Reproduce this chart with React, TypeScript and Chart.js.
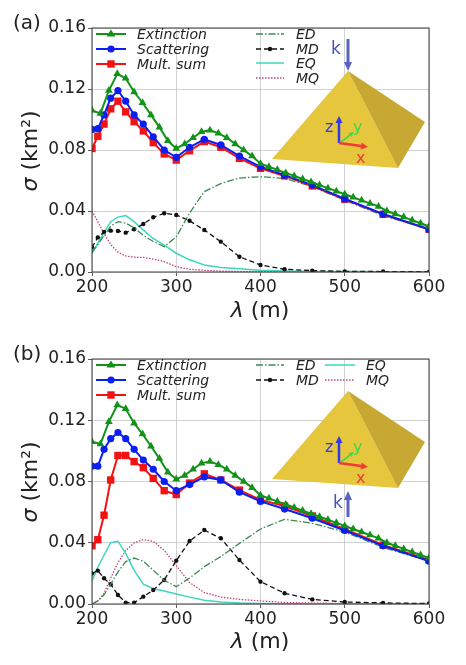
import { useEffect, useRef } from 'react';
import Chart from 'chart.js/auto';

// wavelength grid of the multipole / scattering curves (uniform in 1/λ)
const LAMBDA = [200, 206.9, 214.3, 222.2, 230.8, 240, 250, 260.9, 272.7, 285.7, 300, 315.8, 333.3, 352.9, 375, 400, 428.6, 461.5, 500, 545.5, 600];
// extinction is sampled more densely
const LAMBDA_EXT = [200, 210, 220, 230, 240, 250, 260, 270, 280, 290, 300, 310, 320, 330, 340, 350, 360, 370, 380, 390, 400, 410, 420, 430, 440, 450, 460, 470, 480, 490, 500, 510, 520, 530, 540, 550, 560, 570, 580, 590, 600];
const X_TICKS = [200, 300, 400, 500, 600];
const Y_TICKS = [0, 0.04, 0.08, 0.12, 0.16];

// panel (a)
const EXT_A = [0.106, 0.104, 0.119, 0.130, 0.127, 0.118, 0.111, 0.103, 0.095, 0.086, 0.081, 0.084, 0.088, 0.092, 0.093, 0.091, 0.088, 0.084, 0.080, 0.076, 0.071, 0.069, 0.067, 0.065, 0.063, 0.061, 0.059, 0.057, 0.055, 0.053, 0.051, 0.049, 0.047, 0.045, 0.043, 0.040, 0.038, 0.036, 0.034, 0.032, 0.030];
const SCA_A = [0.0935, 0.094, 0.103, 0.114, 0.119, 0.112, 0.103, 0.097, 0.0887, 0.080, 0.0752, 0.0818, 0.087, 0.0833, 0.076, 0.069, 0.0635, 0.057, 0.048, 0.038, 0.028];
const SUM_A = [0.081, 0.089, 0.097, 0.107, 0.112, 0.105, 0.0986, 0.0925, 0.0848, 0.0774, 0.0734, 0.0795, 0.0855, 0.0818, 0.0745, 0.068, 0.063, 0.0564, 0.0477, 0.0378, 0.028];
const ED_A = [0.013, 0.018, 0.024, 0.030, 0.033, 0.032, 0.029, 0.024, 0.020, 0.0166, 0.023, 0.0387, 0.0527, 0.058, 0.0616, 0.0625, 0.0614, 0.056, 0.047, 0.037, 0.028];
const MD_A = [0.0162, 0.0227, 0.0262, 0.0271, 0.0269, 0.0258, 0.028, 0.0315, 0.0359, 0.0385, 0.0374, 0.0336, 0.0275, 0.0199, 0.010, 0.0046, 0.0018, 0.0009, 0.0004, 0.0003, 0.0001];
const EQ_A = [0.012, 0.019, 0.026, 0.033, 0.036, 0.037, 0.033, 0.0275, 0.022, 0.0177, 0.0123, 0.008, 0.0046, 0.003, 0.0022, 0.0012, 0.0007, 0.0004, 0.0003, 0.0002, 0.0001];
const MQ_A = [0.040, 0.033, 0.025, 0.018, 0.013, 0.0105, 0.0097, 0.0096, 0.0085, 0.0068, 0.0035, 0.0018, 0.0011, 0.0006, 0.0003, 0.0002, 0.0001, 0.0001, 0.0001, 0.0001, 0.0001];

// panel (b)
const EXT_B = [0.106, 0.1045, 0.119, 0.130, 0.1275, 0.118, 0.111, 0.103, 0.095, 0.086, 0.0815, 0.084, 0.088, 0.092, 0.093, 0.091, 0.088, 0.084, 0.080, 0.076, 0.071, 0.069, 0.067, 0.065, 0.063, 0.061, 0.059, 0.057, 0.055, 0.053, 0.051, 0.049, 0.047, 0.045, 0.043, 0.040, 0.038, 0.036, 0.034, 0.032, 0.030];
const SCA_B = [0.090, 0.090, 0.101, 0.108, 0.112, 0.108, 0.101, 0.094, 0.088, 0.080, 0.074, 0.078, 0.083, 0.081, 0.073, 0.067, 0.062, 0.056, 0.048, 0.038, 0.028];
const SUM_B = [0.038, 0.042, 0.058, 0.081, 0.097, 0.097, 0.093, 0.089, 0.082, 0.074, 0.0715, 0.079, 0.085, 0.081, 0.0744, 0.068, 0.064, 0.0575, 0.0488, 0.0385, 0.0287];
const ED_B = [0.000, 0.002, 0.006, 0.013, 0.021, 0.0277, 0.030, 0.028, 0.022, 0.0155, 0.0113, 0.017, 0.0244, 0.031, 0.0396, 0.049, 0.0553, 0.0527, 0.047, 0.037, 0.028];
const MD_B = [0.020, 0.0218, 0.0168, 0.0129, 0.0059, 0.0009, 0.0009, 0.0048, 0.0091, 0.0157, 0.0283, 0.0411, 0.0483, 0.0429, 0.0287, 0.0146, 0.007, 0.003, 0.0013, 0.0007, 0.0003];
const EQ_B = [0.015, 0.024, 0.032, 0.040, 0.041, 0.033, 0.022, 0.013, 0.010, 0.0085, 0.0065, 0.0045, 0.0025, 0.0013, 0.0006, 0.0003, 0.0002, 0.0001, 0.0001, 0.0001, 0.0001];
const MQ_B = [0.000, 0.002, 0.007, 0.017, 0.027, 0.035, 0.040, 0.042, 0.041, 0.035, 0.025, 0.014, 0.0075, 0.0045, 0.003, 0.002, 0.001, 0.0006, 0.0003, 0.0002, 0.0001];

const FONT = "'DejaVu Sans', sans-serif";
const C_EXT = '#13921a';
const C_SCA = '#0a1ef2';
const C_SUM = '#f21212';
const C_ED = '#3d8a55';
const C_MD = '#111111';
const C_EQ = '#3fd6bd';
const C_MQ = '#c2407f';

const xy = (xs: number[], ys: number[]) => xs.map((x, i) => ({ x, y: ys[i] }));

const framePlugin = {
  id: 'frame',
  afterDraw(chart: any) {
    const { ctx, chartArea: a } = chart;
    ctx.save();
    ctx.strokeStyle = '#3a3a3a';
    ctx.lineWidth = 1;
    ctx.strokeRect(a.left, a.top, a.right - a.left, a.bottom - a.top);
    ctx.restore();
  },
};

type PanelProps = {
  ext: number[]; sca: number[]; sum: number[];
  ed: number[]; md: number[]; eq: number[]; mq: number[];
  height: number; axisHeight: number;
};

const Panel = ({ ext, sca, sum, ed, md, eq, mq, height, axisHeight }: PanelProps) => {
  const chartRef = useRef<HTMLCanvasElement>(null);

  useEffect(() => {
    const ctx = chartRef.current?.getContext('2d');
    if (!ctx) return;

    const thin = { pointRadius: 0, tension: 0, borderWidth: 1.3, fill: false };
    const chart = new Chart(ctx, {
      type: 'line',
      data: {
        datasets: [
          { label: 'Extinction', data: xy(LAMBDA_EXT, ext), borderColor: C_EXT, backgroundColor: C_EXT, borderWidth: 2, pointStyle: 'triangle', pointRadius: 4.5, pointBorderWidth: 0, tension: 0 },
          { label: 'Scattering', data: xy(LAMBDA, sca), borderColor: C_SCA, backgroundColor: C_SCA, borderWidth: 2, pointStyle: 'circle', pointRadius: 3.6, pointBorderWidth: 0, tension: 0 },
          { label: 'Mult. sum', data: xy(LAMBDA, sum), borderColor: C_SUM, backgroundColor: C_SUM, borderWidth: 2, pointStyle: 'rect', pointRadius: 5.2, pointBorderWidth: 0, tension: 0 },
          { label: 'ED', data: xy(LAMBDA, ed), borderColor: C_ED, borderDash: [7, 2, 1.5, 2], ...thin },
          { label: 'MD', data: xy(LAMBDA, md), borderColor: C_MD, backgroundColor: C_MD, borderDash: [5, 3], ...thin, pointRadius: 2.2, pointBorderWidth: 0 },
          { label: 'EQ', data: xy(LAMBDA, eq), borderColor: C_EQ, ...thin, borderWidth: 1.5 },
          { label: 'MQ', data: xy(LAMBDA, mq), borderColor: C_MQ, borderDash: [1.5, 1.5], ...thin },
        ],
      },
      options: {
        responsive: false,
        animation: false,
        layout: { padding: { top: 28, right: 37, left: 0, bottom: 0 } },
        plugins: { legend: { display: false }, tooltip: { enabled: false } },
        scales: {
          x: {
            type: 'linear',
            min: 200,
            max: 600,
            afterBuildTicks: (s: any) => { s.ticks = X_TICKS.map((value) => ({ value })); },
            afterFit: (s: any) => { s.height = axisHeight; },
            grid: { color: '#c6c6c6', lineWidth: 0.8, tickLength: 4, tickColor: '#333' },
            border: { display: false },
            ticks: { color: '#222', font: { family: FONT, size: 17 }, padding: 1, maxRotation: 0 },
          },
          y: {
            min: 0,
            max: 0.16,
            afterBuildTicks: (s: any) => { s.ticks = Y_TICKS.map((value) => ({ value })); },
            afterFit: (s: any) => { s.width = 92; },
            grid: { color: '#c6c6c6', lineWidth: 0.8, tickLength: 4, tickColor: '#333' },
            border: { display: false },
            ticks: { color: '#222', font: { family: FONT, size: 17 }, padding: 2, callback: (v: any) => Number(v).toFixed(2) },
          },
        },
      },
      plugins: [framePlugin],
    });

    return () => chart.destroy();
  }, []);

  return <canvas ref={chartRef} width={466} height={height} style={{ display: 'block' }} />;
};

type KeyProps = { x: number; y: number; tx: number; len: number; label: string; color: string; dash?: string; marker?: string; w?: number };

const Key = ({ x, y, tx, len, label, color, dash, marker, w = 2 }: KeyProps) => {
  const c = len / 2;
  return (
    <>
      <svg style={{ position: 'absolute', left: x, top: y - 7 }} width={len} height={14}>
        <line x1={0} y1={7} x2={len} y2={7} stroke={color} strokeWidth={w} strokeDasharray={dash} />
        {marker === 'triangle' && <polygon points={`${c},2.5 ${c + 4.5},9.5 ${c - 4.5},9.5`} fill={color} />}
        {marker === 'circle' && <circle cx={c} cy={7} r={3.6} fill={color} />}
        {marker === 'rect' && <rect x={c - 3.7} y={3.3} width={7.4} height={7.4} fill={color} />}
        {marker === 'dot' && <circle cx={c} cy={7} r={2.2} fill={color} />}
      </svg>
      <div style={{ position: 'absolute', left: tx, top: y - 9, fontSize: 14, lineHeight: '18px', fontStyle: 'italic', color: '#222', whiteSpace: 'nowrap' }}>{label}</div>
    </>
  );
};

const Arrow = ({ x1, y1, x2, y2, color, w = 2.5, head = 7, hw = 3.5 }: { x1: number; y1: number; x2: number; y2: number; color: string; w?: number; head?: number; hw?: number }) => {
  const dx = x2 - x1;
  const dy = y2 - y1;
  const l = Math.hypot(dx, dy);
  const ux = dx / l;
  const uy = dy / l;
  const bx = x2 - ux * head;
  const by = y2 - uy * head;
  return (
    <g>
      <line x1={x1} y1={y1} x2={bx} y2={by} stroke={color} strokeWidth={w} />
      <polygon points={`${x2},${y2} ${bx - uy * hw},${by + ux * hw} ${bx + uy * hw},${by - ux * hw}`} fill={color} />
    </g>
  );
};

const Pyramid = ({ dy }: { dy: number }) => (
  <g transform={`translate(0, ${dy})`}>
    <polygon points="348,71 272,159 398,168" fill="#e6c63c" />
    <polygon points="348,71 398,168 425,122" fill="#c7a833" />
    <Arrow x1={339} y1={143} x2={339} y2={116} color="#2f3ae8" w={2.5} head={7} hw={3.5} />
    <Arrow x1={339} y1={143} x2={368} y2={147} color="#f03a3a" w={2.5} head={7} hw={3.5} />
    <Arrow x1={341} y1={142} x2={354} y2={132} color="#3fd84a" w={1.6} head={5} hw={2.5} />
    <text x={325} y={132} fontSize={16} fill="#2f3ae8">z</text>
    <text x={353} y={132} fontSize={16} fill="#3fd84a">y</text>
    <text x={356} y={163} fontSize={16} fill="#f03a3a">x</text>
  </g>
);

const LeftKeys = ({ oy }: { oy: number }) => (
  <>
    <Key x={96} y={34 + oy} tx={137} len={30} label="Extinction" color={C_EXT} marker="triangle" />
    <Key x={96} y={49 + oy} tx={137} len={30} label="Scattering" color={C_SCA} marker="circle" />
    <Key x={96} y={64 + oy} tx={137} len={30} label="Mult. sum" color={C_SUM} marker="rect" />
  </>
);

const App = () => {
  return (
    <div style={{ position: 'absolute', left: 0, top: 0, width: 466, height: 665, background: '#fff', overflow: 'hidden', fontFamily: FONT }}>
      <div style={{ position: 'absolute', left: 0, top: 0 }}>
        <Panel ext={EXT_A} sca={SCA_A} sum={SUM_A} ed={ED_A} md={MD_A} eq={EQ_A} mq={MQ_A} height={332} axisHeight={60} />
      </div>
      <div style={{ position: 'absolute', left: 0, top: 331 }}>
        <Panel ext={EXT_B} sca={SCA_B} sum={SUM_B} ed={ED_B} md={MD_B} eq={EQ_B} mq={MQ_B} height={334} axisHeight={61} />
      </div>

      <svg style={{ position: 'absolute', left: 0, top: 0 }} width={466} height={665} fontFamily={FONT}>
        <Pyramid dy={0} />
        <Pyramid dy={320} />
        {/* incident wave vectors */}
        <Arrow x1={348} y1={39} x2={348} y2={71} color="#5a62c4" w={3} head={9} hw={4} />
        <text x={331} y={54} fontSize={17} fill="#4a52b8">k</text>
        <Arrow x1={348} y1={517} x2={348} y2={491} color="#5a62c4" w={3} head={9} hw={4} />
        <text x={333} y={508} fontSize={17} fill="#4a52b8">k</text>
      </svg>

      <LeftKeys oy={0} />
      <Key x={256} y={34} tx={296} len={28} label="ED" color={C_ED} dash="7 2 1.5 2" w={1.3} />
      <Key x={256} y={49} tx={296} len={28} label="MD" color={C_MD} dash="5 3" marker="dot" w={1.3} />
      <Key x={256} y={63} tx={296} len={28} label="EQ" color={C_EQ} w={1.5} />
      <Key x={256} y={78} tx={296} len={28} label="MQ" color={C_MQ} dash="1.5 1.5" w={1.3} />

      <LeftKeys oy={331} />
      <Key x={256} y={365} tx={296} len={28} label="ED" color={C_ED} dash="7 2 1.5 2" w={1.3} />
      <Key x={256} y={380} tx={296} len={28} label="MD" color={C_MD} dash="5 3" marker="dot" w={1.3} />
      <Key x={325} y={365} tx={366} len={30} label="EQ" color={C_EQ} w={1.5} />
      <Key x={325} y={380} tx={366} len={30} label="MQ" color={C_MQ} dash="1.5 1.5" w={1.3} />

      {/* panel labels and axis titles */}
      {[0, 331].map((oy, i) => (
        <div key={oy}>
          <div style={{ position: 'absolute', left: 13, top: oy + 10, fontSize: 20, color: '#222' }}>{i === 0 ? '(a)' : '(b)'}</div>
          <div style={{ position: 'absolute', left: 29, top: oy + 151, transform: 'translate(-50%, -50%) rotate(-90deg)', fontSize: 22, color: '#222', whiteSpace: 'nowrap' }}>
            <i>σ</i> (km²)
          </div>
          <div style={{ position: 'absolute', left: 260, top: oy + 309, transform: 'translate(-50%, -50%)', fontSize: 22, color: '#222', whiteSpace: 'nowrap' }}>
            <i>λ</i> (m)
          </div>
        </div>
      ))}
    </div>
  );
};

export default App;
